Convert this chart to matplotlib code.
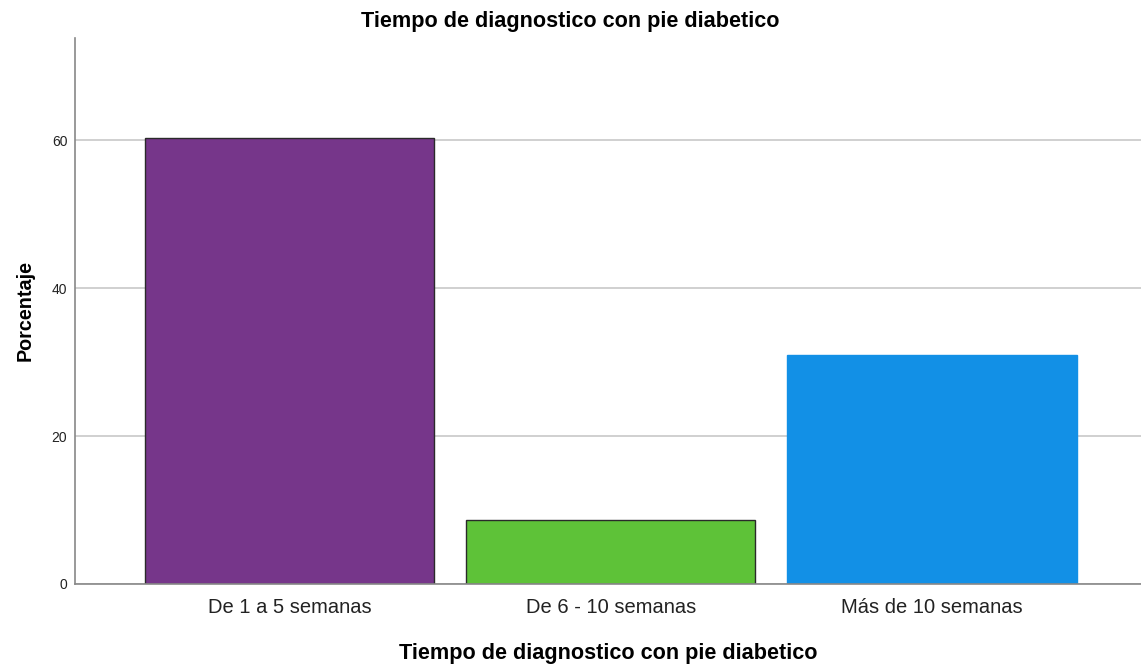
import matplotlib.pyplot as plt

plt.rcParams['font.family'] = ['Liberation Sans', 'DejaVu Sans']

# datos
categorias = ['De 1 a 5 semanas', 'De 6 - 10 semanas', 'Más de 10 semanas']
porcentaje = [60.3, 8.7, 31.0]
colores = ['#76368a', '#5ec238', '#1290e6']
bordes = ['#2a2a2a', '#2a2a2a', '#1290e6']
yticks = [0, 20, 40, 60]

fig = plt.figure(figsize=(11.41, 6.64), dpi=100)
ax = fig.add_axes([0.0657, 0.1205, 0.9343, 0.8223])

ax.yaxis.grid(True, color='#c8c8c8', linewidth=1.2)
ax.set_axisbelow(True)

x = range(len(categorias))
ax.bar(x, porcentaje, width=0.9, color=colores, edgecolor=bordes, linewidth=1.0)

ax.set_xlim(-0.667, 2.65)
ax.set_ylim(0, 73.8)
ax.set_xticks(list(x))
ax.set_xticklabels(categorias, fontsize=14.5, color='#222222')
ax.set_yticks(yticks)
ax.set_yticklabels([str(v) for v in yticks], fontsize=10, color='#222222')
ax.tick_params(axis='both', length=0)
ax.tick_params(axis='x', pad=10)
ax.tick_params(axis='y', pad=5.5)

for s in ['top', 'right']:
    ax.spines[s].set_visible(False)
for s in ['left', 'bottom']:
    ax.spines[s].set_color('#888888')
    ax.spines[s].set_linewidth(1.2)

fig.text(0.5, 1 - 22 / 664, 'Tiempo de diagnostico con pie diabetico',
         fontsize=15.6, fontweight='bold', ha='center', va='center')
ax.set_xlabel('Tiempo de diagnostico con pie diabetico', fontsize=15.6, fontweight='bold', labelpad=19)
ax.set_ylabel('Porcentaje', fontsize=14.2, fontweight='bold', labelpad=12)

fig.savefig('out.png', dpi=100)
